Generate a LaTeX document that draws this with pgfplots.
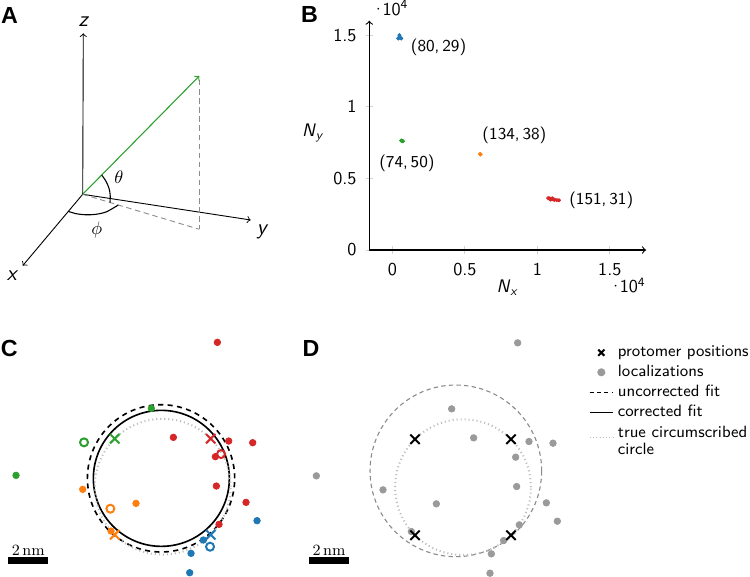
\documentclass[border=0pt]{standalone}
\usepackage{fontspec}
\usepackage{pgfplots}
\pgfplotsset{compat=1.18}
\newfontfamily\letterfont{Liberation Sans}
\definecolor{tblue}{HTML}{1F77B4}
\definecolor{torange}{HTML}{FF7F0E}
\definecolor{tgreen}{HTML}{2CA02C}
\definecolor{tred}{HTML}{D62728}
\definecolor{locgray}{HTML}{9A9A9A}
\definecolor{dotgray}{HTML}{BDBDBD}
\definecolor{dashgray}{HTML}{8A8A8A}
\definecolor{projgray}{HTML}{8C8C8C}

\pgfplotstableread{
x y
2.733 7.217
0.533 2.467
3.300 2.283
4.500 2.200
2.633 1.500
2.683 0.033
4.167 -0.783
2.817 -1.883
}\redloc
\pgfplotstableread{
x y
-0.567 3.917
-7.333 0.567
}\greenloc
\pgfplotstableread{
x y
-4.000 -0.133
-1.333 -0.833
-2.583 -2.217
}\orangeloc
\pgfplotstableread{
x y
4.717 -1.700
2.033 -2.667
1.417 -3.333
1.350 -4.300
}\blueloc

\tikzset{panlab/.style={font=\fontsize{12.8}{14}\selectfont\letterfont\bfseries, inner sep=0pt},
  dlab/.style={font=\fontsize{9.2}{11}\selectfont\sffamily}}
\pgfplotsset{
  locdot/.style={only marks, mark=*, mark size=1.8pt},
  protx/.style={only marks, mark=x, mark size=3.65pt, line width=1.1pt},
  corro/.style={only marks, mark=o, mark size=2.2pt, line width=1.1pt},
}
\newcommand{\tenfour}{\textperiodcentered\kern-1.6pt10\textsuperscript{4}}

\begin{document}
\begin{tikzpicture}
% ---------------- Panel A ----------------
\begin{axis}[at={(0pt,0pt)}, anchor=north west, x=0.55pt, y=0.55pt,
  xmin=0, xmax=300, ymin=-300, ymax=0, hide axis, scale only axis, clip=false]
\addplot[->, line width=0.5pt] coordinates {(82.7,-194.3) (83.3,-33.3)};
\addplot[->, line width=0.5pt] coordinates {(82.7,-194.3) (250.7,-220)};
\addplot[->, line width=0.5pt] coordinates {(82.7,-194.3) (22.7,-265.7)};
\addplot[projgray, line width=0.5pt, dash pattern=on 3pt off 2pt] coordinates {(199.3,-80) (199.3,-229.3)};
\addplot[projgray, line width=0.5pt, dash pattern=on 3pt off 2pt] coordinates {(82.7,-194.3) (199.3,-229.3)};
\addplot[->, tgreen, line width=0.6pt] coordinates {(82.7,-194.3) (199.3,-76)};
\addplot[smooth, line width=0.6pt] coordinates {(101.7,-175) (106,-181.3) (109,-188.3) (110.2,-195) (110,-202.5)};
\addplot[smooth, line width=0.6pt] coordinates {(68.3,-211.4) (76.7,-213.8) (86.7,-214.8) (96.7,-214.2) (106.7,-211.7) (118.3,-205)};
\node[font=\fontsize{12}{14}\selectfont\sffamily\itshape] at (axis cs:83.3,-21.7) {z};
\node[font=\fontsize{12}{14}\selectfont\sffamily\itshape] at (axis cs:261.7,-231.7) {y};
\node[font=\fontsize{12}{14}\selectfont\sffamily\itshape] at (axis cs:11.7,-275.5) {x};
\node at (axis cs:119,-177) {$\theta$};
\node at (axis cs:96.7,-229.5) {$\phi$};
\end{axis}

% ---------------- Panel B ----------------
\begin{axis}[at={(203.1pt,-137.5pt)}, anchor=south west,
  width=152.2pt, height=126.1pt, scale only axis,
  xmin=-1600, xmax=17500, ymin=0, ymax=16000,
  axis lines=left, axis line style={->, line width=0.6pt},
  xtick={0,5000,10000,15000}, ytick={0,5000,10000,15000},
  xticklabels={0,0.5,1,1.5}, yticklabels={0,0.5,1,1.5},
  scaled ticks=false,
  ticklabel style={font=\sffamily},
  xticklabel style={yshift=-1.5pt}, yticklabel style={xshift=-1.5pt},
  major tick length=4pt, tick align=center, tick style={gray!35, line width=0.5pt},
  label style={font=\sffamily},
  xlabel={\textit{N}\textsubscript{\textit{x}}},
  ylabel={\textit{N}\textsubscript{\textit{y}}},
  xlabel style={at={(axis description cs:0.5,-0.166)}, anchor=center},
  ylabel style={rotate=-90, at={(axis description cs:-0.203,0.51)}, anchor=center},
  clip=false]
\addplot[only marks, mark=*, mark size=0.9pt, tblue] coordinates {(480,14990) (400,14760) (600,14760) (500,14830) (430,14800) (560,14800)};
\addplot[only marks, mark=*, mark size=0.9pt, tgreen] coordinates {(600,7640) (680,7610) (720,7590) (650,7620)};
\addplot[only marks, mark=*, mark size=0.9pt, torange] coordinates {(6050,6700) (6080,6670)};
\addplot[only marks, mark=*, mark size=0.9pt, tred] coordinates {(10750,3620) (10850,3600) (10950,3580) (11000,3550) (11100,3520) (11200,3500) (11350,3480) (11500,3470) (11050,3600) (10900,3520)};
\node[dlab] at (axis cs:3180,14110) {(80,\,29)};
\node[dlab] at (axis cs:8420,8020) {(134,\,38)};
\node[dlab] at (axis cs:1000,6050) {(74,\,50)};
\node[dlab] at (axis cs:14410,3490) {(151,\,31)};
\node[font=\sffamily, anchor=north east, inner sep=0pt] at (axis description cs:1,-0.12) {\tenfour};
\node[font=\sffamily, anchor=south west, inner sep=0pt] at (axis description cs:0.006,1.02) {\tenfour};
\end{axis}

% ---------------- Panel C ----------------
\begin{axis}[at={(1.485pt,-179.685pt)}, anchor=north west, x=11pt, y=11pt,
  xmin=-8, xmax=6, ymin=-4.5, ymax=8, hide axis, scale only axis, clip=false]
\draw[black, line width=0.9pt, dash pattern=on 2.8pt off 2.4pt] (axis cs:-0.083,0.417) circle[radius=40.5pt];
\draw[black, line width=0.9pt] (axis cs:-0.067,0.417) circle[radius=37.4pt];
\draw[dotgray, line width=1.1pt, dash pattern=on 0.6pt off 1.6pt] (axis cs:0,0) circle[radius=37.33pt];
\addplot[locdot, tred] table {\redloc};
\addplot[locdot, tgreen] table {\greenloc};
\addplot[locdot, torange] table {\orangeloc};
\addplot[locdot, tblue] table {\blueloc};
\addplot[corro, tgreen] coordinates {(-3.933,2.217)};
\addplot[corro, tred] coordinates {(2.917,1.633)};
\addplot[corro, torange] coordinates {(-2.617,-1.1)};
\addplot[corro, tblue] coordinates {(2.367,-3.0)};
\addplot[protx, tgreen] coordinates {(-2.4,2.4)};
\addplot[protx, tred] coordinates {(2.4,2.4)};
\addplot[protx, torange] coordinates {(-2.4,-2.4)};
\addplot[protx, tblue] coordinates {(2.4,-2.4)};
\fill[black] (axis cs:-7.72,-3.53) rectangle (axis cs:-5.72,-3.865);
\node[font=\fontsize{8.6}{10}\selectfont, anchor=south, inner sep=0.6pt] at (axis cs:-6.72,-3.53) {2\,nm};
\end{axis}

% ---------------- Panel D ----------------
\begin{axis}[at={(166.65pt,-179.96pt)}, anchor=north west, x=11pt, y=11pt,
  xmin=-8, xmax=6, ymin=-4.5, ymax=8, hide axis, scale only axis, clip=false,
  legend style={draw=none, fill=none, inner sep=0pt, column sep=1.6pt, row sep=1.7pt,
    at={(1.02,0.932)}, anchor=north west,
    nodes={inner sep=0.75pt, font=\fontsize{9}{10}\selectfont\sffamily}},
  legend cell align=left,
  legend image code/.code={\draw[mark repeat=2, mark phase=2, #1] plot coordinates {(0cm,0cm) (0.225cm,0cm) (0.45cm,0cm)};}]
\addlegendimage{only marks, mark=x, mark size=2.4pt, line width=1.1pt, black}
\addlegendentry{protomer positions}
\addlegendimage{only marks, mark=*, mark size=2pt, locgray}
\addlegendentry{localizations}
\addlegendimage{black, line width=0.8pt, dash pattern=on 2.2pt off 1.8pt}
\addlegendentry{uncorrected fit}
\addlegendimage{black, line width=0.8pt}
\addlegendentry{corrected fit}
\addlegendimage{dotgray, line width=0.8pt, dash pattern=on 0.6pt off 1.2pt}
\addlegendentry{\renewcommand\arraystretch{0.95}\begin{tabular}{@{}l@{}}true circumscribed\\circle\end{tabular}}
\draw[dashgray, line width=0.6pt, dash pattern=on 2.4pt off 1.8pt] (axis cs:-0.358,0.817) circle[radius=47.2pt];
\draw[dotgray, line width=1.1pt, dash pattern=on 0.6pt off 1.6pt] (axis cs:0,0) circle[radius=37.33pt];
\addplot[locdot, locgray, forget plot] table {\redloc};
\addplot[locdot, locgray, forget plot] table {\greenloc};
\addplot[locdot, locgray, forget plot] table {\orangeloc};
\addplot[locdot, locgray, forget plot] table {\blueloc};
\addplot[protx, black, forget plot] coordinates {(-2.4,2.4) (2.4,2.4) (-2.4,-2.4) (2.4,-2.4)};
\fill[black] (axis cs:-7.7,-3.475) rectangle (axis cs:-5.7,-3.84);
\node[font=\fontsize{8.6}{10}\selectfont, anchor=south, inner sep=0.6pt] at (axis cs:-6.7,-3.475) {2\,nm};
\end{axis}

% panel letters
\node[panlab] at (5.3pt,-8.5pt) {A};
\node[panlab] at (170.2pt,-8.1pt) {B};
\node[panlab] at (5.1pt,-191.8pt) {C};
\node[panlab] at (171.1pt,-191.6pt) {D};

\pgfresetboundingbox
\useasboundingbox (0pt,0pt) rectangle (412.5pt,-317.35pt);
\end{tikzpicture}
\end{document}
